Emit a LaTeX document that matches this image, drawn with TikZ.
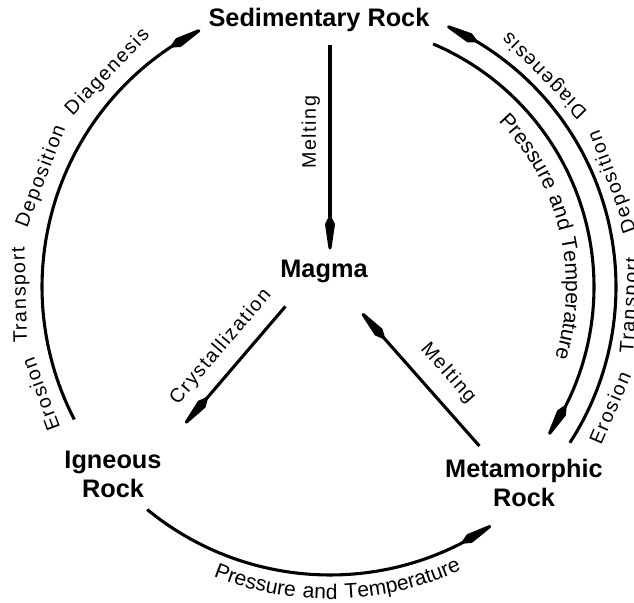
\documentclass[tikz,border=0pt]{standalone}
\usepackage{fontspec}
\setmainfont{Liberation Sans}
\newfontfamily\lblfamily[LetterSpace=8]{Liberation Sans}
\usetikzlibrary{arrows.meta,bending,calc,decorations.text}
\newcommand{\rockfont}{\bfseries\fontsize{18}{20.6}\selectfont}
\newcommand{\lblfont}{\lblfamily\fontsize{14}{16}\selectfont}
\newcommand{\curvefont}{\lblfamily\fontsize{15}{17}\selectfont}

\begin{document}
\begin{tikzpicture}[x=0.025cm, y=0.025cm,
  rock/.style={font=\rockfont, align=center, inner sep=2pt},
  lbl/.style={font=\lblfont, inner sep=1pt},
  rockhead/.tip={Kite[length=11.2mm, width=2.5mm, inset=2.6mm, round]},
  arr/.style={-rockhead, line width=2.2pt},
  rarr/.style={rockhead-, line width=2.2pt}]
 \useasboundingbox (0,0) rectangle (634,603);
 \coordinate (hub) at (330,316);
 \node[rock] (sed) at (319,583) {Sedimentary Rock};
 \node[rock] (mag) at (324,332) {Magma};
 \node[rock] (ign) at (113,129) {Igneous\\Rock};
 \node[rock] (met) at (524,120) {Metamorphic\\Rock};
 % melting and crystallization
 \draw[rarr, shorten <=5pt, shorten >=7pt] ($(mag.north)+(6,0)$) -- ($(mag.north |- sed.south)+(6,0)$)
   node[lbl, pos=0.56, sloped, above=5pt] (melt1) {Melting};
 \draw[arr, shorten <=19.6pt, shorten >=22.7pt] (mag.215) -- (ign.north east)
   node[lbl, pos=0.47, sloped, above=7.5pt] (cryst) {Crystallization};
 \draw[arr, shorten <=9.6pt, shorten >=26.4pt] (met.143) -- (mag.313)
   node[lbl, pos=0.39, sloped, above=9pt] (melt2) {Melting};
 % outer cycle
 \draw[arr] (hub) ++(207.4:288) arc[start angle=207.4, end angle=116.8, radius=288];
 \draw[arr] (hub) ++(-33:286) arc[start angle=-33, end angle=65.8, radius=286];
 \draw[arr] (hub) ++(67:264) arc[start angle=67, end angle=-34, radius=264];
 \draw[arr] (hub) ++(230.6:288) arc[start angle=230.6, end angle=304, radius=288];
 % words along the arcs
 \node[lbl, rotate=110.4] (ero1) at ($(hub)+(200.4:309)$) {Erosion};
 \node[lbl, rotate=91.5] (trans1) at ($(hub)+(181.5:309)$) {Transport};
 \node[lbl, rotate=69] (depo1) at ($(hub)+(159:309)$) {Deposition};
 \node[lbl, rotate=46] (diag1) at ($(hub)+(136:309)$) {Diagenesis};
 \node[lbl, rotate=66.6] (ero2) at ($(hub)+(-23.4:305)$) {Erosion};
 \node[lbl, rotate=86.5] (trans2) at ($(hub)+(-3.5:302)$) {Transport};
 \node[lbl, rotate=110.4] (depo2) at ($(hub)+(20.4:302)$) {Deposition};
 \node[lbl, rotate=134.6] (diag2) at ($(hub)+(44.6:302)$) {Diagenesis};
 % curved labels
 \path[decorate, decoration={text along path, text align=center,
   text={|\curvefont|Pressure and Temperature}}]
   (hub) ++(60:236) arc[start angle=60, end angle=-33, radius=236];
 \path[decorate, decoration={text along path, text align=center,
   text={|\curvefont|Pressure and Temperature}}]
   (hub) ++(225:312) arc[start angle=225, end angle=318, radius=312];
\end{tikzpicture}
\end{document}
